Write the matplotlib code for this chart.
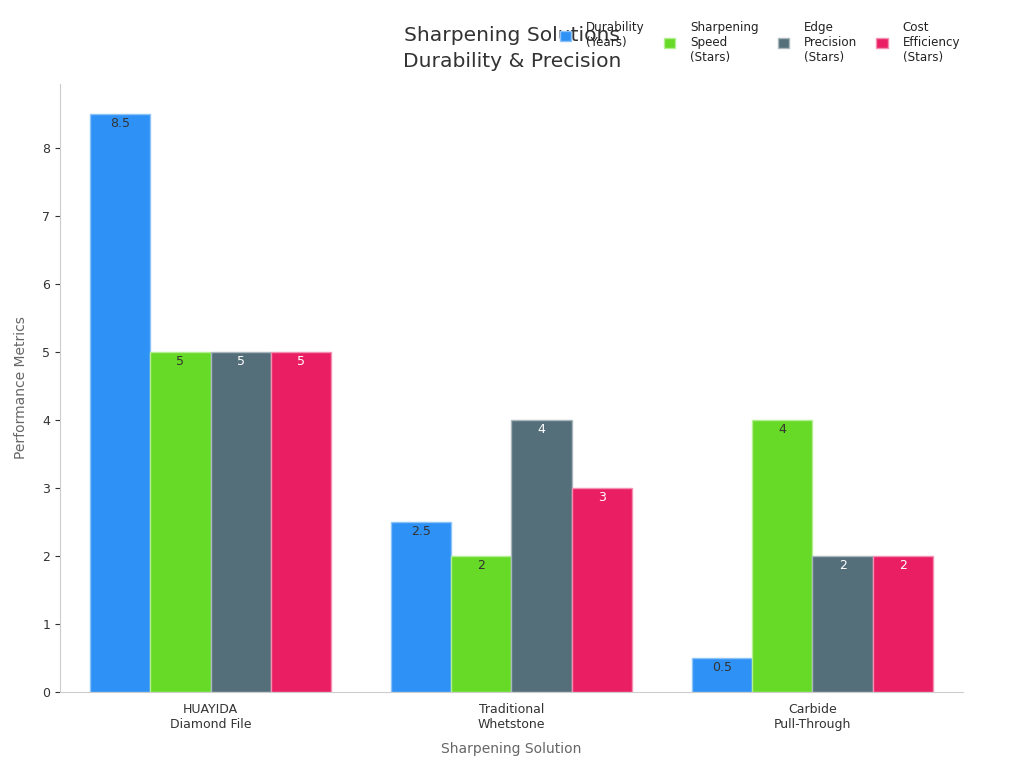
import numpy as np
import matplotlib.pyplot as plt

solutions = ['HUAYIDA\nDiamond File', 'Traditional\nWhetstone', 'Carbide\nPull-Through']
series = ['Durability\n(Years)', 'Sharpening\nSpeed\n(Stars)', 'Edge\nPrecision\n(Stars)', 'Cost\nEfficiency\n(Stars)']
durability = [8.5, 2.5, 0.5]
speed = [5, 2, 4]
precision = [5, 4, 2]
cost = [5, 3, 2]

colors = ['#2E91F5', '#66DA26', '#546E7A', '#E91E63']
edges = ['#8CC4FA', '#B3EE93', '#A9B7BD', '#F48FB1']
text_colors = ['#333333', '#333333', 'white', 'white']

fig = plt.figure(figsize=(10.24, 7.68), dpi=100)
ax = fig.add_axes([0.0586, 0.099, 0.8818, 0.7916])

x = np.arange(len(solutions))
w = 0.2
all_vals = [durability, speed, precision, cost]
for i, vals in enumerate(all_vals):
    bars = ax.bar(x + (i - 1.5) * w, vals, w, color=colors[i], edgecolor=edges[i],
                  linewidth=1, label=series[i])
    for b, v in zip(bars, vals):
        ax.text(b.get_x() + b.get_width() / 2, v - 0.05, f'{v:g}', ha='center', va='top',
                fontsize=9, color=text_colors[i])

ax.set_xlim(-0.5, 2.5)
ax.set_ylim(0, 8.94)
ax.set_xticks(x)
ax.set_xticklabels(solutions, fontsize=9, color='#333333')
ax.set_yticks(range(0, 9))
ax.tick_params(axis='y', labelsize=9, colors='#333333')
ax.tick_params(axis='x', length=0, pad=8)
for s in ['top', 'right']:
    ax.spines[s].set_visible(False)
ax.spines['left'].set_color('#CCCCCC')
ax.spines['bottom'].set_color('#CCCCCC')

ax.set_xlabel('Sharpening Solution', fontsize=10, color='#666666', labelpad=8)
ax.set_ylabel('Performance Metrics', fontsize=10, color='#666666', labelpad=10)

fig.text(0.5, 0.907, 'Sharpening Solutions\nDurability & Precision', ha='center', va='bottom',
         fontsize=14.6, color='#333333', linespacing=1.5)

leg = fig.legend(loc='upper right', bbox_to_anchor=(0.948, 0.987), ncol=4, frameon=False,
                 fontsize=8.6, handlelength=0.94, handleheight=0.94, columnspacing=1.6,
                 handletextpad=1.25, labelspacing=0.2)
for t in leg.get_texts():
    t.set_color('#222222')
# top-align the legend columns like the original
leg._legend_handle_box.align = 'top'

fig.savefig('out.png')
